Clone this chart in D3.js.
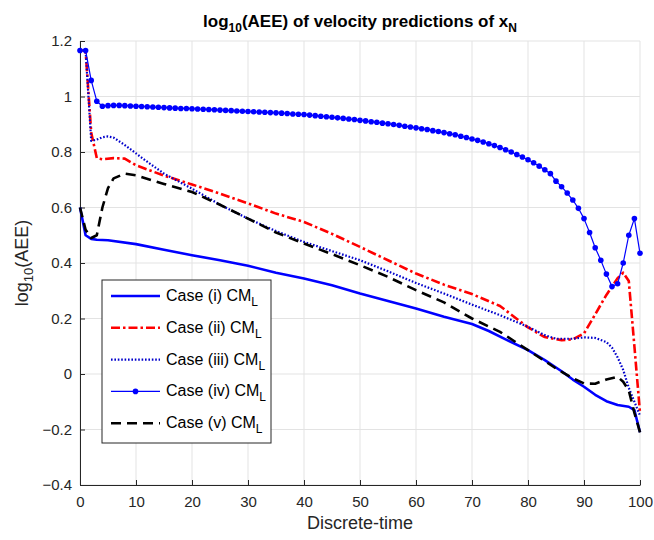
<!DOCTYPE html>
<html>
<head>
<meta charset="utf-8">
<script src="https://cdn.jsdelivr.net/npm/d3@7"></script>
<style>
  body { margin: 0; background: #fff; }
  svg text { font-family: "Liberation Sans", Arial, sans-serif; }
</style>
</head>
<body>
<div id="viz"></div>
<script>
'use strict';

// case (iv) has a marker at every step, so every step is listed
const stepsIV = d3.range(0, 101);
const caseIV = [
  1.166, 1.166, 1.058, 0.983, 0.965, 0.967, 0.968, 0.968, 0.967, 0.966,
  0.965, 0.964, 0.963, 0.962, 0.961, 0.960, 0.959, 0.958, 0.957, 0.957,
  0.956, 0.955, 0.954, 0.953, 0.952, 0.951, 0.950, 0.949, 0.948, 0.947,
  0.946, 0.945, 0.944, 0.943, 0.942, 0.941, 0.940, 0.939, 0.937, 0.936,
  0.935, 0.933, 0.931, 0.929, 0.927, 0.925, 0.923, 0.921, 0.919, 0.917,
  0.914, 0.912, 0.909, 0.907, 0.904, 0.902, 0.899, 0.896, 0.893, 0.890,
  0.887, 0.884, 0.881, 0.877, 0.874, 0.870, 0.866, 0.862, 0.857, 0.852,
  0.847, 0.842, 0.836, 0.830, 0.823, 0.816, 0.808, 0.800, 0.791, 0.782,
  0.772, 0.761, 0.749, 0.736, 0.722, 0.695, 0.675, 0.652, 0.627, 0.597,
  0.560, 0.510, 0.455, 0.410, 0.360, 0.315, 0.325, 0.400, 0.500, 0.560,
  0.435
];

const stepsI = [0, 1, 2, 3, 5, 10, 15, 20, 25, 30, 35, 40, 45, 50, 55, 60, 65, 70, 73, 76, 80, 83, 86, 88, 90, 92, 94, 96, 98, 99, 100];
const caseI = [0.60, 0.50, 0.487, 0.484, 0.482, 0.468, 0.448, 0.428, 0.41, 0.39, 0.365, 0.344, 0.32, 0.29, 0.263, 0.236, 0.206, 0.18, 0.155, 0.125, 0.086, 0.05, 0.01, -0.02, -0.046, -0.075, -0.098, -0.112, -0.118, -0.13, -0.21];

const stepsII = [0, 1, 2, 3, 4, 6, 8, 10, 15, 20, 25, 30, 35, 40, 45, 50, 55, 60, 65, 70, 75, 80, 83, 86, 88, 90, 92, 94, 96, 97, 98, 99, 100];
const caseII = [1.166, 1.166, 0.87, 0.778, 0.774, 0.778, 0.776, 0.752, 0.715, 0.683, 0.65, 0.615, 0.578, 0.548, 0.505, 0.458, 0.41, 0.362, 0.322, 0.288, 0.245, 0.168, 0.133, 0.122, 0.125, 0.146, 0.215, 0.285, 0.345, 0.365, 0.335, 0.10, -0.14];

const stepsIII = [0, 1, 2, 3, 4, 5, 6, 8, 10, 12, 15, 20, 25, 30, 35, 40, 45, 50, 55, 60, 65, 70, 75, 80, 83, 85, 88, 90, 92, 94, 95, 96, 97, 98, 99, 100];
const caseIII = [1.166, 1.166, 0.84, 0.845, 0.853, 0.856, 0.852, 0.825, 0.795, 0.765, 0.722, 0.668, 0.61, 0.56, 0.515, 0.476, 0.443, 0.41, 0.37, 0.328, 0.29, 0.25, 0.212, 0.17, 0.14, 0.127, 0.127, 0.132, 0.13, 0.115, 0.095, 0.06, 0.015, -0.05, -0.1, -0.15];

const stepsV = [0, 1, 2, 3, 4, 5, 6, 8, 10, 15, 20, 25, 30, 35, 40, 45, 50, 55, 60, 65, 70, 75, 80, 85, 88, 90, 92, 94, 96, 97, 98, 99, 100];
const caseV = [0.60, 0.52, 0.49, 0.50, 0.60, 0.67, 0.705, 0.722, 0.716, 0.685, 0.656, 0.61, 0.56, 0.51, 0.47, 0.432, 0.392, 0.35, 0.302, 0.258, 0.2, 0.152, 0.086, 0.02, -0.015, -0.034, -0.035, -0.02, -0.01, -0.028, -0.06, -0.14, -0.21];

const xTicks = [0, 10, 20, 30, 40, 50, 60, 70, 80, 90, 100];
const yTicks = [-0.4, -0.2, 0, 0.2, 0.4, 0.6, 0.8, 1, 1.2];
const legendNames = ['Case (i) CM', 'Case (ii) CM', 'Case (iii) CM', 'Case (iv) CM', 'Case (v) CM'];

const series = [
  {t: stepsI, v: caseI, color: '#0000ff', width: 2.6, dash: null, markers: false},
  {t: stepsII, v: caseII, color: '#ff0000', width: 2.6, dash: '9,3,2.5,3', markers: false},
  {t: stepsIII, v: caseIII, color: '#0000cc', width: 2.2, dash: '1.6,1.8', markers: false},
  {t: stepsIV, v: caseIV, color: '#0000ff', width: 1.2, dash: null, markers: true},
  {t: stepsV, v: caseV, color: '#000000', width: 2.6, dash: '10,6', markers: false}
];

const W = 654, H = 540;
const margin = {top: 41, right: 14, bottom: 55, left: 80};
const width = W - margin.left - margin.right;
const height = H - margin.top - margin.bottom;

const svg = d3.select('#viz')
  .append('svg')
    .attr('width', W)
    .attr('height', H);

const g = svg.append('g')
  .attr('transform', `translate(${margin.left},${margin.top})`);

const x = d3.scaleLinear().domain([0, 100]).range([0, width]);
const y = d3.scaleLinear().domain([-0.4, 1.2]).range([height, 0]);

// grid
g.append('g')
  .selectAll('line')
  .data(xTicks)
  .join('line')
    .attr('x1', d => x(d)).attr('x2', d => x(d))
    .attr('y1', 0).attr('y2', height)
    .attr('stroke', '#e3e3e3');

g.append('g')
  .selectAll('line')
  .data(yTicks)
  .join('line')
    .attr('x1', 0).attr('x2', width)
    .attr('y1', d => y(d)).attr('y2', d => y(d))
    .attr('stroke', '#e3e3e3');

// axes
const xAxis = g.append('g')
  .attr('transform', `translate(0,${height})`)
  .call(d3.axisBottom(x).tickValues(xTicks).tickSizeInner(-5).tickSizeOuter(0).tickPadding(11));

const yAxis = g.append('g')
  .call(d3.axisLeft(y).tickValues(yTicks).tickSizeInner(-5).tickSizeOuter(0).tickPadding(8)
    .tickFormat(d => d3.format('')(+d.toFixed(1))));

[xAxis, yAxis].forEach(a => {
  a.select('.domain').attr('stroke', '#262626');
  a.selectAll('.tick line').attr('stroke', '#262626');
  a.selectAll('.tick text')
    .attr('fill', '#262626')
    .style('font-size', '15px')
    .style('font-family', '"Liberation Sans", Arial, sans-serif');
});

// lines
const line = d3.line()
  .x(d => x(d[0]))
  .y(d => y(d[1]));

series.forEach(s => {
  const pts = s.t.map((t, i) => [t, s.v[i]]);
  g.append('path')
    .datum(pts)
    .attr('fill', 'none')
    .attr('stroke', s.color)
    .attr('stroke-width', s.width)
    .attr('stroke-dasharray', s.dash)
    .attr('stroke-linejoin', 'round')
    .attr('d', line);

  if (s.markers) {
    g.append('g')
      .selectAll('circle')
      .data(pts)
      .join('circle')
        .attr('cx', d => x(d[0]))
        .attr('cy', d => y(d[1]))
        .attr('r', 2.8)
        .attr('fill', s.color);
  }
});

// title
const title = svg.append('text')
  .attr('x', margin.left + width / 2)
  .attr('y', 27)
  .attr('text-anchor', 'middle')
  .attr('fill', '#000')
  .style('font-size', '17px')
  .style('font-weight', 'bold');
title.append('tspan').text('log');
title.append('tspan').attr('dy', 5).style('font-size', '12px').text('10');
title.append('tspan').attr('dy', -5).text('(AEE) of velocity predictions of x');
title.append('tspan').attr('dy', 5).style('font-size', '12px').text('N');

// axis labels
svg.append('text')
  .attr('x', margin.left + width / 2)
  .attr('y', 529)
  .attr('text-anchor', 'middle')
  .attr('fill', '#262626')
  .style('font-size', '18px')
  .text('Discrete-time');

const ylab = svg.append('text')
  .attr('transform', `translate(28,${margin.top + height / 2}) rotate(-90)`)
  .attr('text-anchor', 'middle')
  .attr('fill', '#262626')
  .style('font-size', '18px');
ylab.append('tspan').text('log');
ylab.append('tspan').attr('dy', 5).style('font-size', '13px').text('10');
ylab.append('tspan').attr('dy', -5).text('(AEE)');

// legend
const legend = svg.append('g').attr('transform', 'translate(102,280)');
legend.append('rect')
  .attr('width', 169)
  .attr('height', 163)
  .attr('fill', '#fff')
  .attr('stroke', '#262626')
  .attr('stroke-width', 1);

series.forEach((s, i) => {
  const ly = 16 + i * 31.8;
  legend.append('line')
    .attr('x1', 9).attr('x2', 58)
    .attr('y1', ly).attr('y2', ly)
    .attr('stroke', s.color)
    .attr('stroke-width', s.width)
    .attr('stroke-dasharray', s.dash);
  if (s.markers) {
    legend.append('circle')
      .attr('cx', 33.5).attr('cy', ly).attr('r', 2.8)
      .attr('fill', s.color);
  }
  const t = legend.append('text')
    .attr('x', 64)
    .attr('y', ly + 5)
    .attr('fill', '#000')
    .style('font-size', '16px');
  t.append('tspan').text(legendNames[i]);
  t.append('tspan').attr('dy', 5).style('font-size', '12px').text('L');
});
</script>
</body>
</html>
